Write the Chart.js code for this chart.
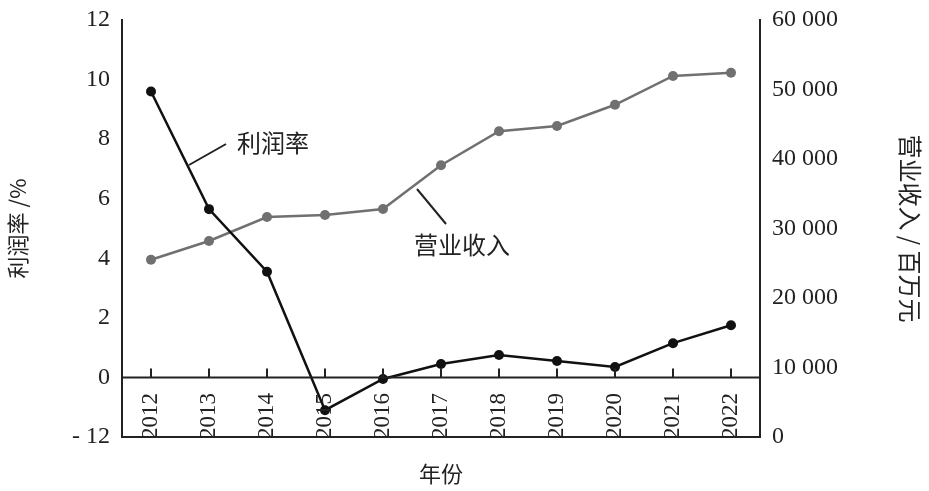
<!DOCTYPE html>
<html><head><meta charset="utf-8">
<script src="https://cdn.jsdelivr.net/npm/chart.js@4"></script>
<style>body{margin:0;background:#fff}#wrap{width:929px;height:491px}</style>
</head><body><div id="wrap"><canvas id="c"></canvas></div>
<script>
const years = ['2012','2013','2014','2015','2016','2017','2018','2019','2020','2021','2022'];
const profitRate = [9.6, 5.65, 3.55, -1.1, -0.05, 0.45, 0.75, 0.55, 0.35, 1.15, 1.75];
const revenue = [25500, 28200, 31650, 31950, 32800, 39100, 44000, 44750, 47800, 51950, 52400];
const serif = '"Liberation Serif", "DejaVu Serif", serif';
const cjk = '"Noto Sans CJK SC", sans-serif';

const deco = {
  id: 'deco',
  afterDraw(chart) {
    const ctx = chart.ctx, a = chart.chartArea, x = chart.scales.x, y = chart.scales.y;
    const y0 = y.getPixelForValue(0);
    ctx.save();
    ctx.strokeStyle = '#222'; ctx.lineWidth = 2;
    ctx.beginPath();
    ctx.moveTo(a.left, y0); ctx.lineTo(a.right, y0);
    ctx.moveTo(a.left, a.bottom); ctx.lineTo(a.right, a.bottom);
    ctx.stroke();
    ctx.fillStyle = '#222';
    ctx.font = '23px ' + serif;
    ctx.textAlign = 'left'; ctx.textBaseline = 'middle';
    years.forEach((yr, i) => {
      const px = x.getPixelForValue(i);
      ctx.beginPath(); ctx.moveTo(px, y0); ctx.lineTo(px, y0 - 9); ctx.stroke();
      ctx.save(); ctx.translate(px, a.bottom + 2); ctx.rotate(-Math.PI / 2);
      ctx.fillText(yr, 0, 0); ctx.restore();
    });
    // annotations
    ctx.beginPath(); ctx.moveTo(189, 165); ctx.lineTo(226, 144); ctx.stroke();
    ctx.beginPath(); ctx.moveTo(417, 189); ctx.lineTo(446, 224); ctx.stroke();
    ctx.font = '24px ' + cjk; ctx.textAlign = 'left';
    ctx.fillText('利润率', 237, 143);
    ctx.fillText('营业收入', 414, 245);
    ctx.restore();
  }
};

new Chart(document.getElementById('c'), {
  type: 'line',
  data: {
    labels: years,
    datasets: [
      { data: profitRate, yAxisID: 'y', borderColor: '#111', backgroundColor: '#111', borderWidth: 2.5, pointRadius: 5, pointBorderWidth: 0 },
      { data: revenue, yAxisID: 'y1', borderColor: '#707070', backgroundColor: '#707070', borderWidth: 2.5, pointRadius: 5, pointBorderWidth: 0 }
    ]
  },
  options: {
    responsive: true, maintainAspectRatio: false, animation: false,
    layout: { padding: { top: 20, bottom: 0, left: 0, right: 0 } },
    plugins: { legend: { display: false }, tooltip: { enabled: false } },
    scales: {
      x: {
        offset: true,
        grid: { display: false, drawTicks: false },
        border: { display: false },
        ticks: { display: false },
        afterFit: s => { s.height = 54; },
        title: { display: true, text: '年份', font: { size: 22, family: cjk }, color: '#222', padding: { top: 12 } }
      },
      y: {
        position: 'left', min: -2, max: 12,
        grid: { display: false },
        border: { color: '#222', width: 2 },
        afterFit: s => { s.width = 122; },
        ticks: { stepSize: 2, color: '#222', padding: 4, font: { size: 24, family: serif }, callback: v => v === -2 ? '- 12' : v },
        title: { display: true, text: '利润率 /%', font: { size: 22, family: cjk }, color: '#222' }
      },
      y1: {
        position: 'right', min: 0, max: 60000,
        grid: { display: false },
        border: { color: '#222', width: 2 },
        afterFit: s => { s.width = 169; },
        ticks: { stepSize: 10000, color: '#222', padding: 4, font: { size: 24, family: serif },
          callback: v => v === 0 ? '0' : String(v / 1000) + ' 000' },
        title: { display: true, text: '营业收入 / 百万元', font: { size: 24, family: cjk }, color: '#222' }
      }
    }
  },
  plugins: [deco]
});
</script></body></html>
